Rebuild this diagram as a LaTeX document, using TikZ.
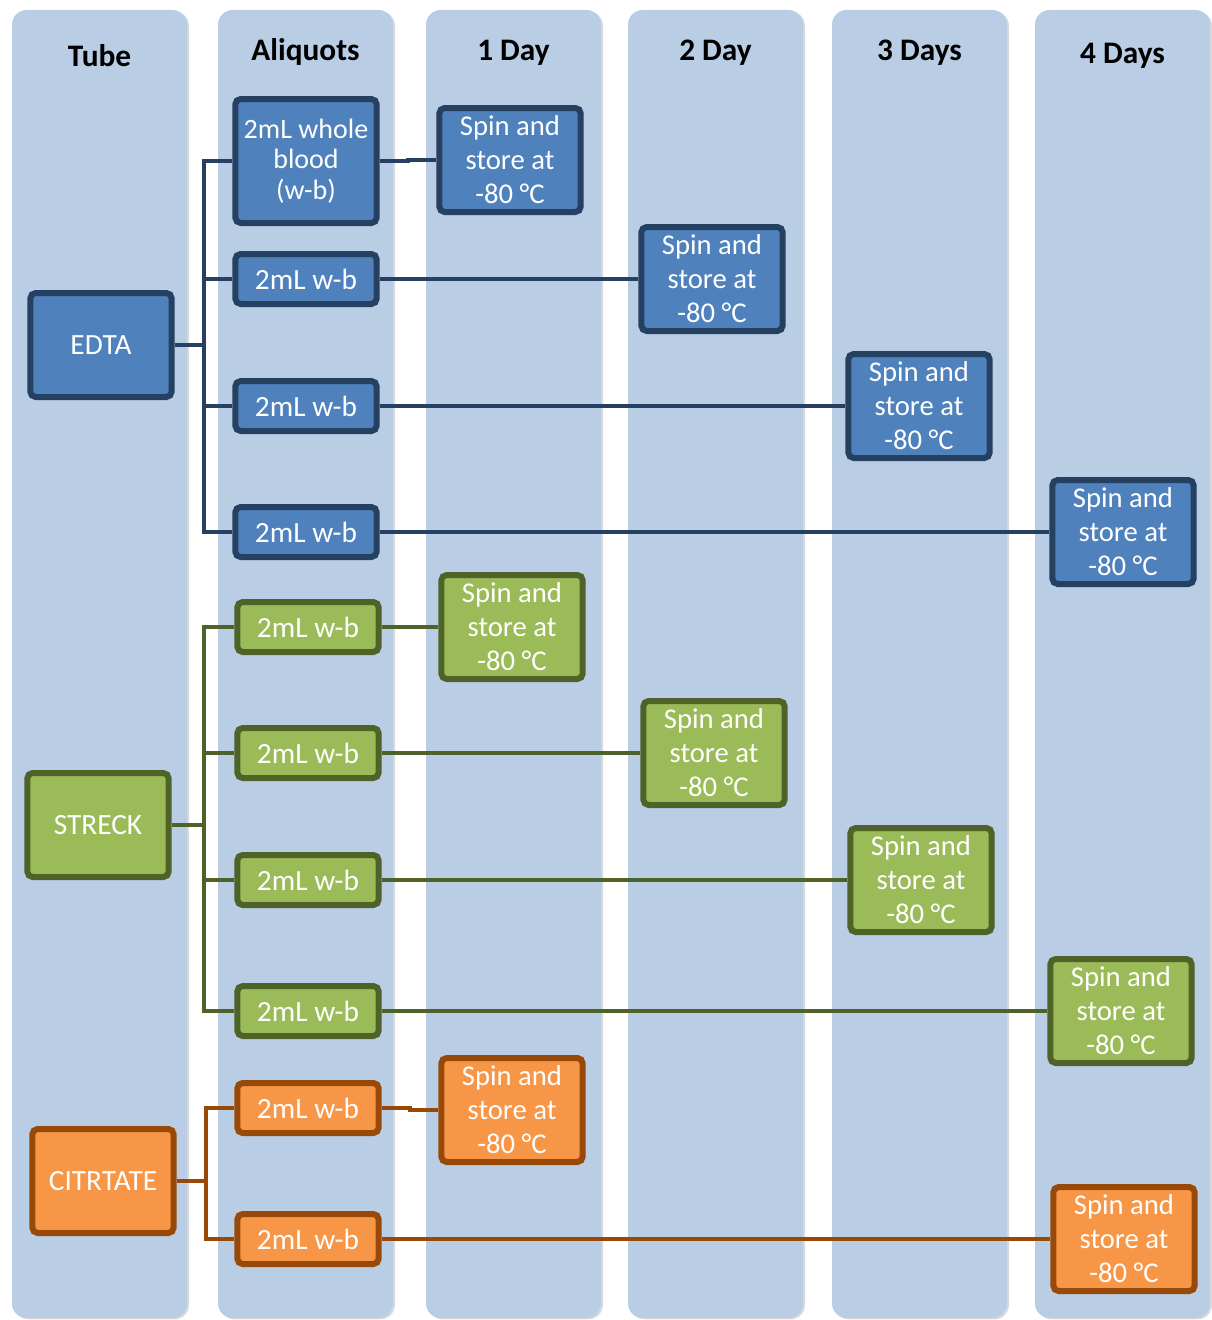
\documentclass[tikz,border=0pt]{standalone}
\usepackage{fontspec}
\setmainfont{Carlito}
\usetikzlibrary{shadows}
\definecolor{lanecol}{RGB}{185,205,229}
\definecolor{bluefill}{RGB}{79,129,189}
\definecolor{blueedge}{RGB}{37,64,97}
\definecolor{greenfill}{RGB}{155,187,89}
\definecolor{greenedge}{RGB}{79,98,40}
\definecolor{orangefill}{RGB}{247,150,70}
\definecolor{orangeedge}{RGB}{152,72,7}

\begin{document}
\begin{tikzpicture}[
    x=0.75pt, y=-0.75pt,
    lane/.style={fill=lanecol, rounded corners=11pt, drop shadow={shadow xshift=1.5pt, shadow yshift=-1pt, fill=black!50, opacity=0.3}},
    header/.style={font=\fontsize{23.5}{27}\selectfont\bfseries},
    box/.style={rectangle, rounded corners=4pt, line width=4.5pt, text=white, align=center, minimum width=106pt, inner sep=0pt, font=\fontsize{22}{25.5}\selectfont},
    tubebox/.style={box, minimum height=78pt},
    alibox/.style={box, minimum height=37.5pt},
    spinbox/.style={box, minimum height=78pt, font=\fontsize{21.5}{25.5}\selectfont},
    edtacol/.style={draw=blueedge, fill=bluefill},
    streckcol/.style={draw=greenedge, fill=greenfill},
    citcol/.style={draw=orangeedge, fill=orangefill},
    link/.style={line width=2.8pt}
]
    \useasboundingbox (0,0) rectangle (1211,1320);

    % swim lanes and their headers
    \foreach \x/\t/\y [count=\i] in {12/Tube/56, 218/Aliquots/52, 426/1 Day/53, 628/2 Day/53, 832/3 Days/53, 1035/4 Days/56} {
        \fill[lane] (\x,10) rectangle (\x+175,1318);
        \node[header] (head\i) at (\x+87.5,\y) {\t};
    }

    % EDTA
    \node[tubebox, edtacol] (edta) at (101,345) {EDTA};
    \node[alibox, edtacol, minimum height=93pt, font=\fontsize{21}{23}\selectfont] (ewb) at (306,161) {2mL whole\\blood\\(w-b)};
    \node[alibox, edtacol] (ea1) at (306,279) {2mL w-b};
    \node[alibox, edtacol] (ea2) at (306,406) {2mL w-b};
    \node[alibox, edtacol] (ea3) at (306,532) {2mL w-b};
    \node[spinbox, edtacol] (es1) at (510,160) {Spin and\\store at\\-80 °C};
    \node[spinbox, edtacol] (es2) at (712,279) {Spin and\\store at\\-80 °C};
    \node[spinbox, edtacol] (es3) at (919,406) {Spin and\\store at\\-80 °C};
    \node[spinbox, edtacol] (es4) at (1123,532) {Spin and\\store at\\-80 °C};

    % STRECK
    \node[tubebox, streckcol] (streck) at (98,825) {STRECK};
    \node[alibox, streckcol] (ga1) at (308,627) {2mL w-b};
    \node[alibox, streckcol] (ga2) at (308,753) {2mL w-b};
    \node[alibox, streckcol] (ga3) at (308,880) {2mL w-b};
    \node[alibox, streckcol] (ga4) at (308,1011) {2mL w-b};
    \node[spinbox, streckcol] (gs1) at (512,627) {Spin and\\store at\\-80 °C};
    \node[spinbox, streckcol] (gs2) at (714,753) {Spin and\\store at\\-80 °C};
    \node[spinbox, streckcol] (gs3) at (921,880) {Spin and\\store at\\-80 °C};
    \node[spinbox, streckcol] (gs4) at (1121,1011) {Spin and\\store at\\-80 °C};

    % CITRTATE
    \node[tubebox, citcol] (citrate) at (103,1181) {CITRTATE};
    \node[alibox, citcol] (oa1) at (308,1108) {2mL w-b};
    \node[alibox, citcol] (oa2) at (308,1239) {2mL w-b};
    \node[spinbox, citcol] (os1) at (512,1110) {Spin and\\store at\\-80 °C};
    \node[spinbox, citcol] (os4) at (1124,1239) {Spin and\\store at\\-80 °C};

    % connectors
    \coordinate (ebus) at (204,345);
    \coordinate (gbus) at (204,825);
    \coordinate (obus) at (206,1181);

    \draw[link, blueedge] (edta) -- (ebus);
    \foreach \a in {ewb, ea1, ea2, ea3}
        \draw[link, blueedge] (ebus) |- (\a);
    \draw[link, blueedge] (ewb.east) -- ++(28,0) |- (es1.west);
    \draw[link, blueedge] (ea1) -- (es2);
    \draw[link, blueedge] (ea2) -- (es3);
    \draw[link, blueedge] (ea3) -- (es4);

    \draw[link, greenedge] (streck) -- (gbus);
    \foreach \a in {ga1, ga2, ga3, ga4}
        \draw[link, greenedge] (gbus) |- (\a);
    \draw[link, greenedge] (ga1) -- (gs1);
    \draw[link, greenedge] (ga2) -- (gs2);
    \draw[link, greenedge] (ga3) -- (gs3);
    \draw[link, greenedge] (ga4) -- (gs4);

    \draw[link, orangeedge] (citrate) -- (obus);
    \foreach \a in {oa1, oa2}
        \draw[link, orangeedge] (obus) |- (\a);
    \draw[link, orangeedge] (oa1.east) -- ++(28,0) |- (os1.west);
    \draw[link, orangeedge] (oa2) -- (os4);
\end{tikzpicture}
\end{document}
